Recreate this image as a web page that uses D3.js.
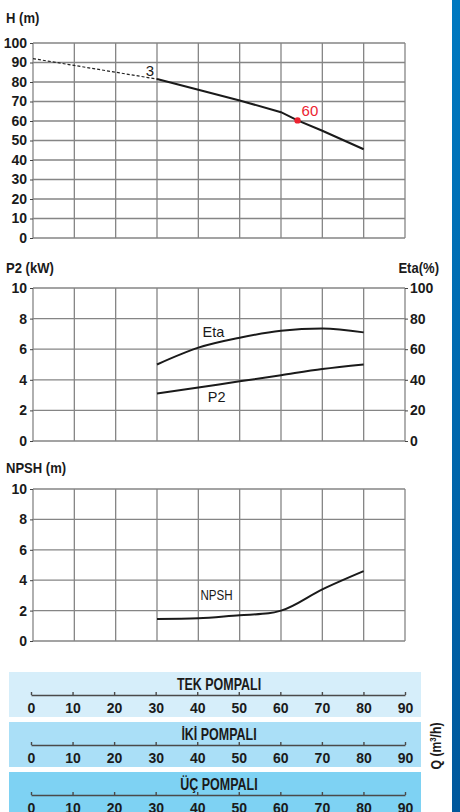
<!DOCTYPE html>
<html>
<head>
<meta charset="utf-8">
<script src="https://cdn.jsdelivr.net/npm/d3@7"></script>
<style>
  body { margin: 0; background: #fff; }
  svg text { font-family: "Liberation Sans", Arial, sans-serif; fill: #1a1a1a; }
</style>
</head>
<body>
<div id="chart"></div>
<script>
// data
var qTicks = [0, 10, 20, 30, 40, 50, 60, 70, 80, 90];
var headTicks = [0, 10, 20, 30, 40, 50, 60, 70, 80, 90, 100];
var smallTicks = [0, 2, 4, 6, 8, 10];
var etaTicks = [0, 20, 40, 60, 80, 100];

var headQ = [0, 10, 20, 30, 40, 50, 60, 64, 70, 80];
var headH = [92, 88.5, 85, 81.5, 76, 70.5, 64.5, 60.3, 55, 45.5];
var dashedUntil = 30;
var dutyQ = 64, dutyH = 60.3, dutyLabel = "60", curveName = "3";

var etaQ = [30, 40, 50, 60, 70, 80];
var etaV = [50, 61, 67.5, 72, 73.5, 71];
var p2Q = [30, 40, 50, 60, 70, 80];
var p2V = [3.1, 3.5, 3.9, 4.3, 4.7, 5.0];
var npshQ = [30, 40, 50, 57, 60, 70, 80];
var npshV = [1.45, 1.5, 1.7, 1.82, 2.0, 3.4, 4.6];

var bandNames = ["TEK POMPALI", "İKİ POMPALI", "ÜÇ POMPALI"];
var bandColors = ["#d6eefa", "#aadff7", "#7ed2f3"];

var W = 460, H = 812;
var gridColor = "#858585";

var svg = d3.select("#chart").append("svg")
  .attr("width", W).attr("height", H);

var defs = svg.append("defs");
var grad = defs.append("linearGradient").attr("id", "sidebar")
  .attr("x1", 0).attr("y1", 0).attr("x2", 0).attr("y2", 1);
grad.append("stop").attr("offset", "0%").attr("stop-color", "#0079c0");
grad.append("stop").attr("offset", "100%").attr("stop-color", "#00589c");
svg.append("rect").attr("x", 452).attr("y", 0).attr("width", 8).attr("height", H)
  .attr("fill", "url(#sidebar)");

var x = d3.scaleLinear().domain([0, 90]).range([33, 405]);

// text helper, sx squeezes horizontally (no narrow font installed)
function ctext(parent, txt, tx, ty, size, weight, anchor, sx) {
  return parent.append("text")
    .attr("transform", "translate(" + tx + "," + ty + ")scale(" + (sx || 1) + ",1)")
    .attr("text-anchor", anchor || "start")
    .attr("font-size", size).attr("font-weight", weight || "normal")
    .text(txt);
}

function grid(g, y, ticks) {
  g.selectAll(".v").data(qTicks).enter().append("line")
    .attr("x1", d => x(d)).attr("x2", d => x(d))
    .attr("y1", y.range()[0]).attr("y2", y.range()[1])
    .attr("stroke", gridColor).attr("stroke-width", 1.3);
  g.selectAll(".h").data(ticks).enter().append("line")
    .attr("x1", x(0)).attr("x2", x(90))
    .attr("y1", d => y(d)).attr("y2", d => y(d))
    .attr("stroke", gridColor).attr("stroke-width", 1.3);
}

function styleTicks(ax) {
  ax.selectAll("line").attr("stroke", "#444");
  ax.selectAll("text").attr("font-size", 14).attr("font-weight", "bold")
    .style("font-family", "Liberation Sans, Arial, sans-serif").attr("fill", "#1a1a1a");
}

function leftAxis(g, y, ticks) {
  var ax = g.append("g").attr("transform", "translate(" + x(0) + ",0)")
    .call(d3.axisLeft(y).tickValues(ticks).tickSize(3).tickPadding(3));
  ax.select(".domain").remove();
  styleTicks(ax);
}

// ---- Head chart
var yH = d3.scaleLinear().domain([0, 100]).range([238, 43]);
var g1 = svg.append("g");
grid(g1, yH, headTicks);
leftAxis(g1, yH, headTicks);
ctext(svg, "H (m)", 6, 23, 15, "bold", "start", 0.87);

var headPts = headQ.map((q, i) => [q, headH[i]]);
var line1 = d3.line().x(d => x(d[0])).y(d => yH(d[1]));
g1.append("path").datum(headPts.filter(d => d[0] <= dashedUntil))
  .attr("d", line1).attr("fill", "none").attr("stroke", "#222")
  .attr("stroke-width", 1.2).attr("stroke-dasharray", "3,2");
g1.append("path").datum(headPts.filter(d => d[0] >= dashedUntil))
  .attr("d", line1).attr("fill", "none").attr("stroke", "#1a1a1a")
  .attr("stroke-width", 2);
g1.append("circle").attr("cx", x(dutyQ)).attr("cy", yH(dutyH)).attr("r", 3.2)
  .attr("fill", "#ec2330");
ctext(g1, dutyLabel, x(dutyQ) + 4, yH(dutyH) - 4, 15).style("fill", "#ec2330");
ctext(g1, curveName, x(28.3), yH(82.5) - 1, 15, "normal", "middle");

// ---- P2 / Eta chart
var yP = d3.scaleLinear().domain([0, 10]).range([441, 288]);
var yE = d3.scaleLinear().domain([0, 100]).range([441, 288]);
var g2 = svg.append("g");
grid(g2, yP, smallTicks);
leftAxis(g2, yP, smallTicks);
var rax = g2.append("g").attr("transform", "translate(" + x(90) + ",0)")
  .call(d3.axisRight(yE).tickValues(etaTicks).tickSize(3).tickPadding(2));
rax.select(".domain").remove();
styleTicks(rax);
ctext(svg, "P2 (kW)", 6, 273, 15, "bold", "start", 0.87);
ctext(svg, "Eta(%)", 439, 273, 15, "bold", "end", 0.87);

g2.append("path").datum(etaQ.map((q, i) => [q, etaV[i]]))
  .attr("d", d3.line().curve(d3.curveMonotoneX).x(d => x(d[0])).y(d => yE(d[1])))
  .attr("fill", "none").attr("stroke", "#1a1a1a").attr("stroke-width", 2);
g2.append("path").datum(p2Q.map((q, i) => [q, p2V[i]]))
  .attr("d", d3.line().curve(d3.curveMonotoneX).x(d => x(d[0])).y(d => yP(d[1])))
  .attr("fill", "none").attr("stroke", "#1a1a1a").attr("stroke-width", 2);
ctext(g2, "Eta", x(41), yE(62) - 9, 14.5);
ctext(g2, "P2", x(42.3), yP(3.6) + 16, 14.5);

// ---- NPSH chart
var yN = d3.scaleLinear().domain([0, 10]).range([641, 489]);
var g3 = svg.append("g");
grid(g3, yN, smallTicks);
leftAxis(g3, yN, smallTicks);
ctext(svg, "NPSH (m)", 6, 473, 15, "bold", "start", 0.87);
g3.append("path").datum(npshQ.map((q, i) => [q, npshV[i]]))
  .attr("d", d3.line().curve(d3.curveMonotoneX).x(d => x(d[0])).y(d => yN(d[1])))
  .attr("fill", "none").attr("stroke", "#1a1a1a").attr("stroke-width", 2);
ctext(g3, "NPSH", x(40.5), yN(2.7), 14.5, "normal", "start", 0.8);

// ---- flow bands
var xb = d3.scaleLinear().domain([0, 90]).range([31, 405]);
var bandTop = [672, 722, 772];
bandNames.forEach(function(name, i) {
  var top = bandTop[i];
  svg.append("rect").attr("x", 9).attr("y", top).attr("width", 412)
    .attr("height", i == 2 ? H - top : 45).attr("fill", bandColors[i]);
  ctext(svg, name, 219, top + 18, 16, "bold", "middle", 0.78);
  var ax = svg.append("g").attr("transform", "translate(0," + (top + 23) + ")")
    .call(d3.axisBottom(xb).tickValues(qTicks).tickSize(-3).tickPadding(5).tickSizeOuter(0));
  ax.select(".domain").attr("stroke", "#4a4a4a").attr("stroke-width", 1.6);
  styleTicks(ax);
  ax.selectAll("line").attr("stroke", "#4a4a4a").attr("stroke-width", 1.4);
  ax.selectAll("text").attr("dy", "0.93em");
});

svg.append("text")
  .attr("transform", "translate(441,746)rotate(-90)scale(0.87,1)")
  .attr("text-anchor", "middle").attr("font-size", 14).attr("font-weight", "bold")
  .html('Q (m<tspan dy="-5" font-size="9">3</tspan><tspan dy="5">/h)</tspan>');
</script>
</body>
</html>
